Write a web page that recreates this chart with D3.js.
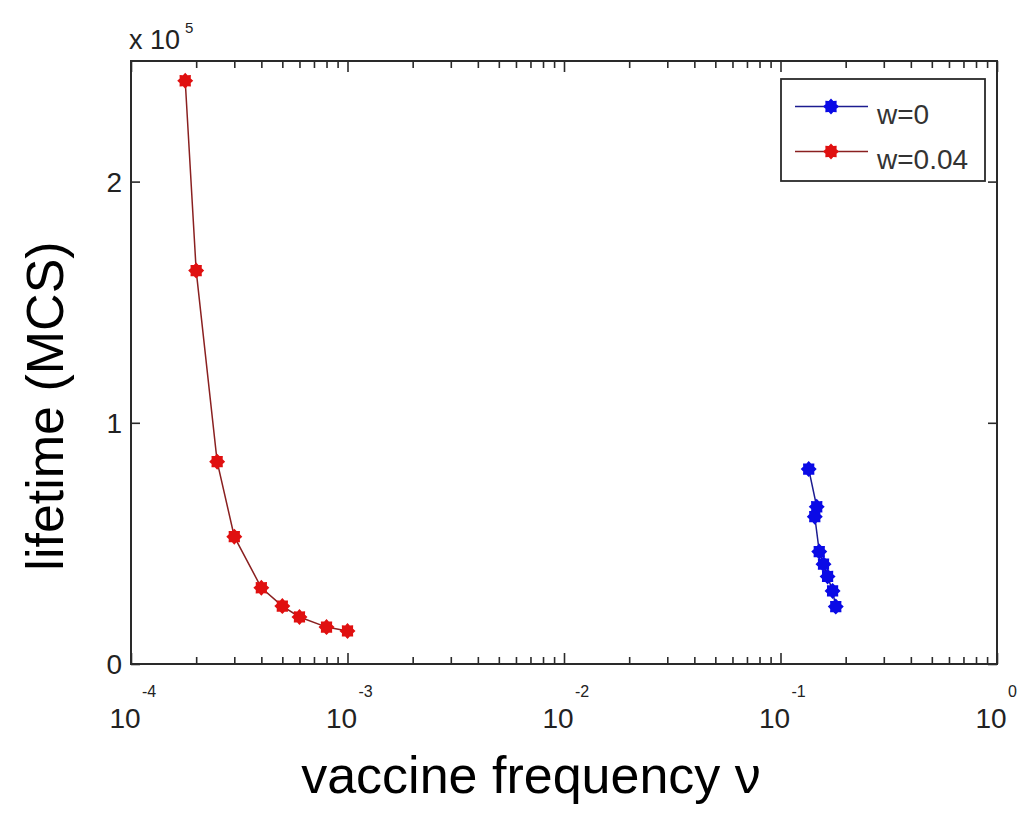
<!DOCTYPE html>
<html>
<head>
<meta charset="utf-8">
<script src="https://cdn.jsdelivr.net/npm/d3@7"></script>
<style>
  html, body { margin: 0; padding: 0; background: #fff; }
  svg { display: block; }
  text { font-family: "Liberation Sans", Arial, sans-serif; }
</style>
</head>
<body>
<svg id="chart" width="1036" height="814"></svg>
<script>
// ---- data ----
const seriesNames = ["w=0", "w=0.04"];
const blueX = [0.135, 0.147, 0.144, 0.151, 0.158, 0.165, 0.174, 0.180];
const blueY = [0.808e5, 0.652e5, 0.611e5, 0.466e5, 0.414e5, 0.363e5, 0.303e5, 0.238e5];
const redX = [1.78e-4, 2e-4, 2.5e-4, 3e-4, 4e-4, 5e-4, 6e-4, 8e-4, 1e-3];
const redY = [2.418e5, 1.631e5, 0.839e5, 0.528e5, 0.316e5, 0.240e5, 0.195e5, 0.153e5, 0.137e5];
const xMajorExp = [-4, -3, -2, -1, 0];
const yTicks = [0, 1e5, 2e5];
const yTickLabels = ["0", "1", "2"];
const xTitle = "vaccine frequency \u03BD";
const yTitle = "lifetime (MCS)";

// ---- layout ----
const L = 131, R = 997, T = 61, B = 664;
const svg = d3.select("#chart");
const x = d3.scaleLog().domain([1e-4, 1]).range([L, R]);
const y = d3.scaleLinear().domain([0, 2.5e5]).range([B, T]);

const axisColor = "#2a2a2a";
const majors = xMajorExp.map(e => Math.pow(10, e));
const minors = [];
xMajorExp.slice(0, -1).forEach(e => { for (let k = 2; k <= 9; k++) minors.push(k * Math.pow(10, e)); });

function styleAxis(g) {
  g.selectAll("path.domain").remove();
  g.selectAll("line").attr("stroke", axisColor).attr("stroke-width", 1.6);
  g.selectAll("text").remove();
}
// bottom ticks
svg.append("g").attr("transform", `translate(0,${B})`)
  .call(d3.axisBottom(x).tickValues(majors).tickSize(-11).tickFormat("")).call(styleAxis);
svg.append("g").attr("transform", `translate(0,${B})`)
  .call(d3.axisBottom(x).tickValues(minors).tickSize(-7).tickFormat("")).call(styleAxis);
// top ticks
svg.append("g").attr("transform", `translate(0,${T})`)
  .call(d3.axisTop(x).tickValues(majors).tickSize(-11).tickFormat("")).call(styleAxis);
svg.append("g").attr("transform", `translate(0,${T})`)
  .call(d3.axisTop(x).tickValues(minors).tickSize(-7).tickFormat("")).call(styleAxis);
// left / right ticks
svg.append("g").attr("transform", `translate(${L},0)`)
  .call(d3.axisLeft(y).tickValues(yTicks).tickSize(-9).tickFormat("")).call(styleAxis);
svg.append("g").attr("transform", `translate(${R},0)`)
  .call(d3.axisRight(y).tickValues(yTicks).tickSize(-9).tickFormat("")).call(styleAxis);

// box
svg.append("rect").attr("x", L).attr("y", T).attr("width", R - L).attr("height", B - T)
  .attr("fill", "none").attr("stroke", axisColor).attr("stroke-width", 2);

// x tick labels
const xl = svg.append("g").attr("fill", "#222");
xMajorExp.forEach(e => {
  const px = x(Math.pow(10, e));
  xl.append("text").attr("x", px - 6).attr("y", 728).attr("text-anchor", "middle")
    .attr("font-size", 28).text("10");
  xl.append("text").attr("x", px + 11).attr("y", 697).attr("text-anchor", "start")
    .attr("font-size", 16).text(e === 0 ? "0" : "-" + Math.abs(e));
});
// y tick labels
yTicks.forEach((v, i) => {
  svg.append("text").attr("x", 122).attr("y", y(v) + 10).attr("text-anchor", "end")
    .attr("font-size", 28).attr("fill", "#222").text(yTickLabels[i]);
});
// multiplier
svg.append("text").attr("x", 129).attr("y", 49).attr("font-size", 27).attr("fill", "#222").text("x 10");
svg.append("text").attr("x", 185).attr("y", 33).attr("font-size", 15).attr("fill", "#222").text("5");

// titles
svg.append("text").attr("x", 531).attr("y", 793).attr("text-anchor", "middle")
  .attr("font-size", 52).attr("fill", "#000").text(xTitle);
svg.append("text").attr("transform", "translate(63,406) rotate(-90)").attr("text-anchor", "middle")
  .attr("font-size", 52).attr("fill", "#000").text(yTitle);

// marker: 8-point star
function starPath(ro, ri) {
  const pts = [];
  for (let i = 0; i < 16; i++) {
    const a = i * Math.PI / 8;
    const r = i % 2 === 0 ? ro : ri;
    pts.push([r * Math.cos(a), r * Math.sin(a)]);
  }
  return "M" + pts.map(p => p.join(",")).join("L") + "Z";
}
const star = starPath(8, 6);

const series = [
  { xs: blueX, ys: blueY, line: "#1c1c90", fill: "#0a0ae6" },
  { xs: redX, ys: redY, line: "#8a2020", fill: "#e01010" }
];
const line = d3.line().x(d => x(d[0])).y(d => y(d[1]));
series.forEach(s => {
  const pts = s.xs.map((v, i) => [v, s.ys[i]]);
  svg.append("path").datum(pts).attr("d", line).attr("fill", "none")
    .attr("stroke", s.line).attr("stroke-width", 1.5);
  svg.append("g").selectAll("path").data(pts).join("path")
    .attr("d", star).attr("transform", d => `translate(${x(d[0])},${y(d[1])})`)
    .attr("fill", s.fill);
});

// legend
const lg = svg.append("g");
lg.append("rect").attr("x", 781).attr("y", 79).attr("width", 204).attr("height", 102)
  .attr("fill", "#fff").attr("stroke", axisColor).attr("stroke-width", 1.8);
series.forEach((s, i) => {
  const ly = 106.5 + i * 45;
  lg.append("line").attr("x1", 795).attr("x2", 868).attr("y1", ly).attr("y2", ly)
    .attr("stroke", s.line).attr("stroke-width", 1.5);
  lg.append("path").attr("d", star).attr("transform", `translate(831,${ly})`).attr("fill", s.fill);
  lg.append("text").attr("x", 877).attr("y", ly + 17).attr("font-size", 28).attr("fill", "#333")
    .text(seriesNames[i]);
});
</script>
</body>
</html>
